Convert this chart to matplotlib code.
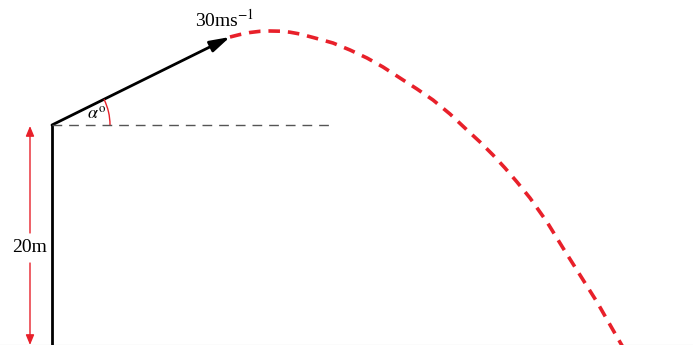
import matplotlib
matplotlib.use("Agg")
import matplotlib.pyplot as plt
from matplotlib.patches import Arc, FancyArrowPatch

plt.rcParams['mathtext.fontset'] = 'stix'
plt.rcParams['font.family'] = ['Liberation Serif', 'DejaVu Serif']

# picture coordinates (pixels, y downwards)
cliff_x = [52, 52]
cliff_y = [125, 345]
launch = (52, 125)
velocity_tip = (230, 37)
horizon_x = [52, 335]
horizon_y = [125, 125]
# trajectory
traj_x = [230, 240, 250, 260, 270, 280, 290, 300, 315, 333, 350, 367, 383, 400, 417,
          433, 450, 467, 480, 493, 505, 517, 530, 547, 563, 580, 597, 613, 624]
traj_y = [37, 34.5, 32.5, 31.3, 31, 31.2, 32.2, 34, 38, 43, 50, 58, 67, 78, 89,
          100, 114, 130, 142, 155, 168, 182, 198, 222, 248, 275, 302, 330, 349]
height_x = 30
height_top, height_bot = 126, 345
label_speed = r'30ms$^{-1}$'
label_angle = r'$\alpha^{\rm o}$'
label_height = '20m'
angle_deg = 26.3
arc_radius = 58

red = '#e8202a'

fig = plt.figure(figsize=(6.93, 3.45), dpi=100)
ax = fig.add_axes([0, 0, 1, 1])
ax.set_xlim(0, 693)
ax.set_ylim(345, 0)
ax.axis('off')

# faint ground edge
ax.plot([0, 693], [344.5, 344.5], color='#ececec', lw=1)

# cliff
ax.plot(cliff_x, cliff_y, color='k', lw=2, solid_capstyle='butt')
# horizontal reference
ax.plot(horizon_x, horizon_y, color='#555555', lw=1, dashes=(7, 5))
# velocity arrow
ax.add_patch(FancyArrowPatch(launch, velocity_tip, arrowstyle='-|>,head_length=12,head_width=3.5',
                             color='k', lw=2, mutation_scale=1, shrinkA=0, shrinkB=0))
# angle arc (y axis inverted -> negative angles)
ax.add_patch(Arc(launch, 2 * arc_radius, 2 * arc_radius, theta1=-angle_deg, theta2=0,
                 color=red, lw=1))
# trajectory
ax.plot(traj_x, traj_y, color=red, lw=2.6, dashes=(3.2, 2.2))

# height dimension
ax.annotate('', xy=(height_x, height_top), xytext=(height_x, 233),
            arrowprops=dict(arrowstyle='-|>,head_length=6,head_width=2.5', color=red, lw=1,
                            shrinkA=0, shrinkB=0, mutation_scale=1))
ax.annotate('', xy=(height_x, height_bot), xytext=(height_x, 263),
            arrowprops=dict(arrowstyle='-|>,head_length=6,head_width=2.5', color=red, lw=1,
                            shrinkA=0, shrinkB=0, mutation_scale=1))

ax.text(height_x, 248, label_height, fontsize=14, ha='center', va='center')
ax.text(225, 20, label_speed, fontsize=14, ha='center', va='center')
ax.text(97, 114, label_angle, fontsize=13, ha='center', va='center')

fig.savefig('out.png', dpi=100)
